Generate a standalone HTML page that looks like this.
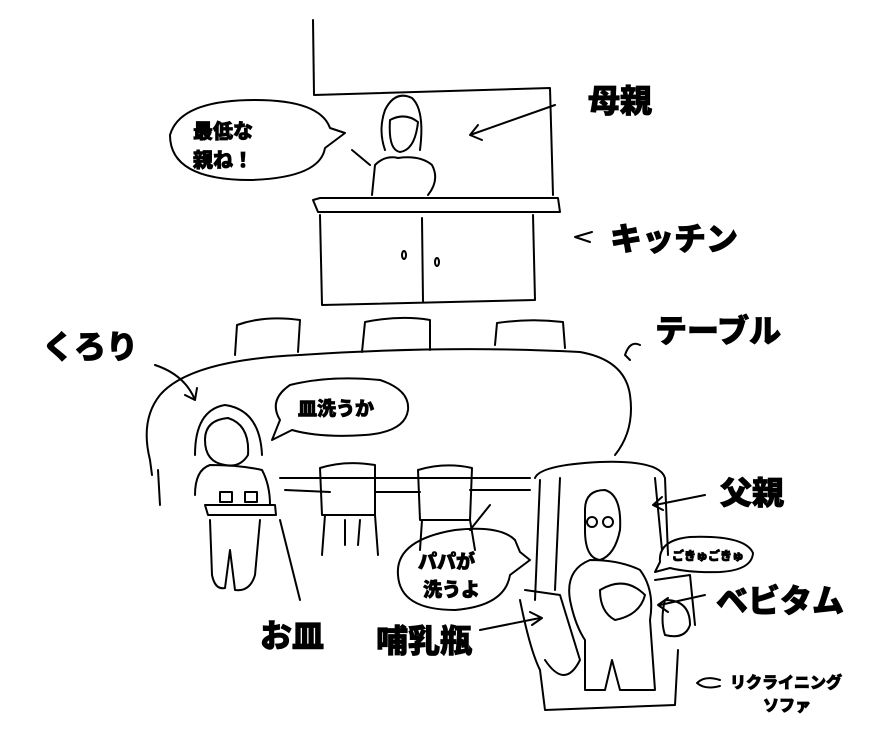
<!DOCTYPE html>
<html><head><meta charset="utf-8"><style>
html,body{margin:0;padding:0;background:#fff;}
svg{display:block;}
text{font-family:"Liberation Sans","Noto Sans CJK JP",sans-serif;font-weight:900;fill:#000;stroke:#000;stroke-width:0.8;}
</style></head><body>
<svg width="890" height="742" viewBox="0 0 890 742" xmlns="http://www.w3.org/2000/svg">
<g fill="none" stroke="#000" stroke-width="2" stroke-linecap="round" stroke-linejoin="round">
<path d="M313 20 L314 95 L550 88 L553 195"/>
<path d="M385 110 Q395 90 412 98 Q425 110 420 150 M385 110 Q378 130 385 150 M390 120 Q405 112 418 122 Q415 150 400 152 Q388 150 390 120"/>
<path d="M372 195 L375 165 Q385 155 398 158 Q420 155 432 165 Q440 180 428 195 M352 150 L370 165"/>
<path d="M330 128 Q320 100 255 100 Q180 100 170 135 Q170 180 250 180 Q320 178 325 148 L345 133 Z"/>
<path d="M555 105 L470 135 M478 125 L470 135 L482 140"/>
<path d="M313 200 L318 212 L560 212 L558 198 L320 198 Z"/>
<path d="M320 215 L322 305 L535 300 L533 215 M422 218 L423 302"/>
<ellipse cx="404" cy="255" rx="2" ry="4"/><ellipse cx="437" cy="262" rx="2" ry="4"/>
<path d="M592 232 L575 237 L590 242"/>
<path d="M235 355 L237 325 Q265 315 300 320 L298 352"/>
<path d="M362 352 L365 322 Q400 315 430 320 L430 350"/>
<path d="M495 345 L497 323 Q530 318 563 322 L565 348"/>
<path d="M150 460 Q140 420 160 395 Q190 360 300 355 Q450 345 580 352 Q625 360 630 395 Q635 430 615 455"/>
<path d="M150 460 L152 475 M158 470 L160 505 M280 478 L530 478 M285 490 L330 492 M375 492 L420 492 M470 490 L530 490"/>
<path d="M640 345 Q630 340 625 355 L630 360"/>
<path d="M155 365 Q185 375 195 400 M185 395 L195 400 L197 388"/>
<path d="M195 455 Q195 410 225 405 Q260 410 262 455 M205 440 Q205 420 228 418 Q250 425 248 455 Q240 468 225 465 Q205 462 205 440"/>
<path d="M195 495 Q195 470 210 465 Q240 465 262 470 Q270 485 270 505 M205 505 L275 505 L276 515 L208 515 Z"/>
<path d="M210 520 L212 575 Q215 590 225 588 L230 550 L235 590 Q250 592 255 575 L260 520"/>
<rect x="220" y="492" width="12" height="10"/><rect x="245" y="492" width="12" height="10"/>
<path d="M280 520 L300 600"/>
<path d="M280 420 Q268 400 290 385 Q330 375 380 380 Q410 390 408 410 Q405 432 365 435 Q320 438 292 430 L272 440 Z"/>
<path d="M320 468 Q345 460 375 465 L375 515 L322 515 Z M325 515 L322 555 M375 515 L378 555 M345 520 L345 545 M360 520 L358 545"/>
<path d="M418 470 Q445 462 472 468 L470 520 L420 520 Z M422 520 L420 550 M470 520 L475 550 M490 505 L470 530"/>
<path d="M535 478 Q540 465 600 462 Q660 460 665 478 L668 555 M540 480 L535 600 M560 478 L555 590 M655 478 L662 550"/>
<path d="M655 580 L690 575 L695 625 M665 600 Q690 600 690 625 Q685 640 665 635 Q660 620 665 600"/>
<path d="M520 600 Q530 650 540 670 L545 710 L675 705 L678 650 M525 590 L560 595 L580 660 Q565 690 545 660"/>
<path d="M585 510 Q585 490 605 490 Q622 495 620 530 Q615 555 600 560 Q585 558 585 530 Z"/>
<circle cx="592" cy="522" r="5"/><circle cx="608" cy="522" r="5"/>
<path d="M570 600 Q565 570 590 560 Q620 560 640 570 Q655 590 650 620 L655 690 L620 690 L612 660 L605 690 L585 690 L585 640 Q575 625 570 600"/>
<path d="M600 590 Q625 575 645 595 Q640 615 615 620 Q600 612 600 590"/>
<path d="M705 495 L655 505 M662 497 L653 505 L663 510"/>
<path d="M660 562 Q658 540 690 537 Q745 535 753 553 Q752 570 720 572 Q690 573 670 568 L655 572 Z"/>
<path d="M705 595 L660 605 M668 598 L658 605 L668 612"/>
<path d="M515 540 Q500 525 455 530 Q395 540 398 575 Q400 610 455 610 Q505 606 510 575 L530 560 L520 552 Z"/>
<path d="M480 630 L540 618 M530 612 L542 618 L532 625"/>
<path d="M720 680 Q705 675 697 683 Q705 690 720 686"/>
</g>
<text x="193" y="138" font-size="20">最低な</text>
<text x="193" y="167" font-size="20">親ね！</text>
<text x="588" y="112" font-size="32">母親</text>
<text x="610" y="250" font-size="32">キッチン</text>
<text x="655" y="342" font-size="32">テーブル</text>
<text x="42" y="358" font-size="32">くろり</text>
<text x="298" y="415" font-size="19">皿洗うか</text>
<text x="720" y="504" font-size="32">父親</text>
<text x="672" y="560" font-size="12">ごきゅごきゅ</text>
<text x="716" y="612" font-size="32">ベビタム</text>
<text x="418" y="568" font-size="19">パパが</text>
<text x="423" y="596" font-size="19">洗うよ</text>
<text x="260" y="647" font-size="32">お皿</text>
<text x="376" y="652" font-size="32">哺乳瓶</text>
<text x="730" y="688" font-size="16">リクライニング</text>
<text x="763" y="711" font-size="16">ソファ</text>
</svg>
</body></html>
